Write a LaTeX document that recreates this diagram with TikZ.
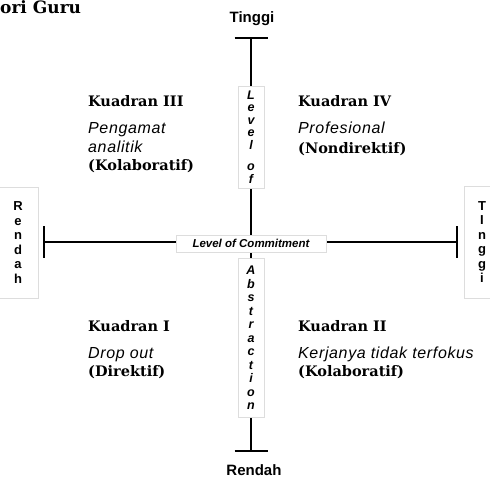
\documentclass[tikz,border=0pt]{standalone}
\usepackage{fontspec}
\setmainfont{Liberation Sans}
\newfontfamily\headfont{DejaVu Serif}
\newfontfamily\descfont[LetterSpace=4]{Liberation Sans}
\usetikzlibrary{positioning}
\definecolor{boxclr}{HTML}{DDDDDD}

\begin{document}
\begin{tikzpicture}[
        x=1pt, y=-1pt,
        axis line/.style={line width=2pt, black},
        tick line/.style={line width=2pt, black},
        end label/.style={font=\fontsize{15}{17}\selectfont\bfseries, inner sep=0pt, anchor=base},
        axis box/.style={draw=boxclr, line width=0.6pt, fill=white, inner sep=0pt, align=center},
        stack italic/.style={font=\fontsize{12.5}{13.5}\selectfont\bfseries\itshape},
        stack upright/.style={font=\fontsize{13}{14.5}\selectfont\bfseries},
        quad head/.style={font=\headfont\fontsize{14.5}{17}\selectfont\bfseries, inner sep=0pt, anchor=base west},
        quad text/.style={font=\descfont\fontsize{16}{18}\selectfont\itshape, inner sep=0pt, anchor=base west},
    ]

    \useasboundingbox (0,0) rectangle (490,478);

    % Title
    \node[font=\headfont\fontsize{17}{19}\selectfont\bfseries, inner sep=0pt, anchor=base west] (title) at (0,14) {ori Guru};

    % Axis Ends
    \coordinate (top) at (251,38);
    \coordinate (bottom) at (251,451);
    \coordinate (left) at (44,242);
    \coordinate (right) at (457,242);

    % Axes Lines
    \draw[axis line] (top) -- (bottom);
    \draw[axis line] (left) -- (right);

    % End Ticks
    \draw[tick line] ([xshift=-16.5pt]top) -- ([xshift=16.5pt]top);
    \draw[tick line] ([xshift=-16.5pt]bottom) -- ([xshift=16.5pt]bottom);
    \draw[tick line] ([yshift=-16pt]left) -- ([yshift=16pt]left);
    \draw[tick line] ([yshift=-16pt]right) -- ([yshift=16pt]right);

    % End Labels
    \node[end label] (hightop) at (252,23) {Tinggi};
    \node[end label] (lowbottom) at (254,475) {Rendah};
    \node[axis box, stack upright, minimum width=40pt, minimum height=111pt] (lowleft) at (18,242.5)
        {R\\e\\n\\d\\a\\h};
    \node[axis box, stack upright, minimum width=36pt, minimum height=112pt] (highright) at (482,242)
        {T\\I\\n\\g\\g\\i};

    % Axis Titles
    \node[axis box, font=\fontsize{11.5}{13}\selectfont\bfseries\itshape, minimum width=150pt, minimum height=17pt] (commit) at (251,243.5)
        {Level of Commitment};
    \node[axis box, font=\fontsize{12.5}{12.5}\selectfont\bfseries\itshape, minimum width=26pt, minimum height=102pt] (levelof) at (251,137)
        {L\\e\\v\\e\\l\\[9pt]o\\f};
    \node[axis box, stack italic, minimum width=26pt, minimum height=159pt] (abstract) at (251,338)
        {A\\b\\s\\t\\r\\a\\c\\t\\i\\o\\n};

    % Kuadran III
    \node[quad head] (q3head) at (88,107) {Kuadran III};
    \node[quad text] (q3line1) at (88,134) {Pengamat};
    \node[quad text] (q3line2) at (88,153) {analitik};
    \node[quad head] (q3tag) at (88,171) {(Kolaboratif)};

    % Kuadran IV
    \node[quad head] (q4head) at (298,107) {Kuadran IV};
    \node[quad text] (q4line1) at (298,134) {Profesional};
    \node[quad head] (q4tag) at (298,154) {(Nondirektif)};

    % Kuadran I
    \node[quad head] (q1head) at (88,331) {Kuadran I};
    \node[quad text] (q1line1) at (88,359) {Drop out};
    \node[quad head] (q1tag) at (88,377) {(Direktif)};

    % Kuadran II
    \node[quad head] (q2head) at (298,331) {Kuadran II};
    \node[quad text] (q2line1) at (298,359) {Kerjanya tidak terfokus};
    \node[quad head] (q2tag) at (298,377) {(Kolaboratif)};

\end{tikzpicture}
\end{document}
